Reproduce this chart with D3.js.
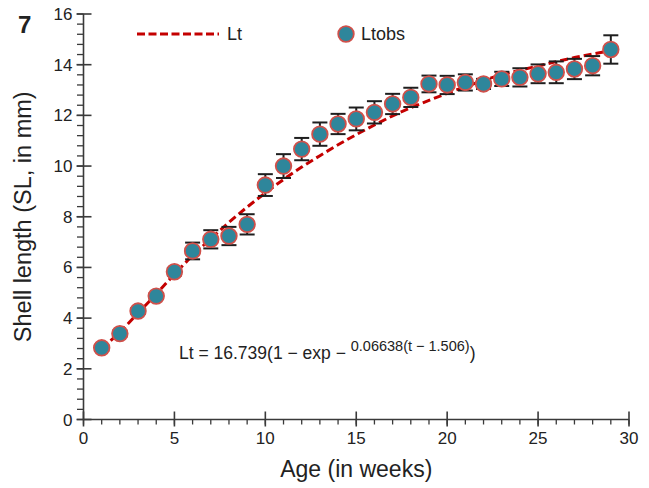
<!DOCTYPE html>
<html>
<head>
<meta charset="utf-8">
<script src="https://cdn.jsdelivr.net/npm/d3@7"></script>
<style>
  html, body { margin: 0; padding: 0; background: #fff; }
  svg { display: block; font-family: "Liberation Sans", Arial, sans-serif; }
</style>
</head>
<body>
<svg id="chart" width="649" height="488"></svg>
<script>
// ---- data ----
const ages = [1,2,3,4,5,6,7,8,9,10,11,12,13,14,15,16,17,18,19,20,21,22,23,24,25,26,27,28,29];
const ltObs = [2.83,3.39,4.28,4.87,5.83,6.65,7.11,7.24,7.70,9.25,10.0,10.67,11.26,11.66,11.86,12.12,12.45,12.71,13.24,13.20,13.30,13.24,13.44,13.50,13.64,13.70,13.83,13.96,14.60];
const ltErr = [0.12,0.12,0.12,0.12,0.15,0.33,0.36,0.36,0.40,0.43,0.47,0.44,0.46,0.40,0.45,0.44,0.40,0.38,0.33,0.36,0.32,0.20,0.28,0.36,0.37,0.43,0.40,0.38,0.56];
const ltFit = [2.80,3.45,4.20,4.95,5.73,6.47,7.13,7.78,8.38,8.94,9.47,9.96,10.41,10.84,11.24,11.62,11.98,12.30,12.59,12.87,13.13,13.38,13.60,13.78,13.95,14.12,14.28,14.42,14.55];
const xTicks = [0,5,10,15,20,25,30];
const yTicks = [0,2,4,6,8,10,12,14,16];
const xTitle = "Age (in weeks)";
const yTitle = "Shell length (SL, in mm)";
const panelLabel = "7";
const legendLabels = ["Lt", "Ltobs"];
const eqMain = "Lt = 16.739(1 \u2212 exp \u2212 ";
const eqSup = "0.06638(t \u2212 1.506)";
const eqEnd = ")";

// ---- layout ----
const svg = d3.select("#chart");
const x = d3.scaleLinear().domain([0, 30]).range([83.5, 629]);
const y = d3.scaleLinear().domain([0, 16]).range([419.5, 14]);
const axisColor = "#3a3a3a";
const textColor = "#222";

// Y axis
const gy = svg.append("g");
gy.append("line").attr("x1", x(0)).attr("x2", x(0)).attr("y1", y(16)).attr("y2", y(0))
  .attr("stroke", axisColor).attr("stroke-width", 1.6);
const yMinor = d3.range(0, 16.001, 0.4);
gy.selectAll("line.ymin").data(yMinor).enter().append("line")
  .attr("x1", x(0) - 6.5).attr("x2", x(0))
  .attr("y1", d => y(d)).attr("y2", d => y(d))
  .attr("stroke", axisColor).attr("stroke-width", 1.3);
gy.selectAll("line.ymaj").data(yTicks).enter().append("line")
  .attr("x1", x(0) - 7).attr("x2", x(0) + 8)
  .attr("y1", d => y(d)).attr("y2", d => y(d))
  .attr("stroke", axisColor).attr("stroke-width", 1.6);
gy.selectAll("text").data(yTicks).enter().append("text")
  .attr("x", x(0) - 11).attr("y", d => y(d) + 6)
  .attr("text-anchor", "end").attr("font-size", 17).attr("fill", textColor)
  .text(d => d);

// X axis
const gx = svg.append("g");
gx.append("line").attr("x1", x(0)).attr("x2", x(30)).attr("y1", y(0)).attr("y2", y(0))
  .attr("stroke", axisColor).attr("stroke-width", 1.6);
const xMinor = d3.range(0, 31, 1);
gx.selectAll("line.xmin").data(xMinor).enter().append("line")
  .attr("x1", d => x(d)).attr("x2", d => x(d))
  .attr("y1", y(0)).attr("y2", y(0) + 5)
  .attr("stroke", axisColor).attr("stroke-width", 1.3);
gx.selectAll("line.xmaj").data(xTicks).enter().append("line")
  .attr("x1", d => x(d)).attr("x2", d => x(d))
  .attr("y1", y(0) - 8).attr("y2", y(0) + 7)
  .attr("stroke", axisColor).attr("stroke-width", 1.6);
gx.selectAll("text").data(xTicks).enter().append("text")
  .attr("x", d => x(d)).attr("y", y(0) + 24)
  .attr("text-anchor", "middle").attr("font-size", 17).attr("fill", textColor)
  .text(d => d);

// Titles
svg.append("text").attr("x", (x(0) + x(30)) / 2).attr("y", 477)
  .attr("text-anchor", "middle").attr("font-size", 23).attr("fill", textColor)
  .text(xTitle);
svg.append("text")
  .attr("transform", `translate(31,${(y(0) + y(16)) / 2}) rotate(-90)`)
  .attr("text-anchor", "middle").attr("font-size", 23.5).attr("fill", textColor)
  .text(yTitle);
svg.append("text").attr("x", 18).attr("y", 33)
  .attr("font-size", 24).attr("font-weight", "bold").attr("fill", textColor)
  .text(panelLabel);

// Fitted curve
const line = d3.line().x((d, i) => x(ages[i])).y(d => y(d)).curve(d3.curveMonotoneX);
svg.append("path").datum(ltFit).attr("d", line)
  .attr("fill", "none").attr("stroke", "#c40000").attr("stroke-width", 3)
  .attr("stroke-dasharray", "8,4");

// Error bars
const eb = svg.append("g");
ages.forEach((a, i) => {
  const cx = x(a), lo = y(ltObs[i] - ltErr[i]), hi = y(ltObs[i] + ltErr[i]);
  eb.append("line").attr("x1", cx).attr("x2", cx).attr("y1", lo).attr("y2", hi)
    .attr("stroke", "#1e1e1e").attr("stroke-width", 2);
  [lo, hi].forEach(yy => eb.append("line").attr("x1", cx - 7.5).attr("x2", cx + 7.5)
    .attr("y1", yy).attr("y2", yy).attr("stroke", "#1e1e1e").attr("stroke-width", 2));
});

// Points
svg.append("g").selectAll("circle").data(ltObs).enter().append("circle")
  .attr("cx", (d, i) => x(ages[i])).attr("cy", d => y(d)).attr("r", 7.8)
  .attr("fill", "#2e869b").attr("stroke", "#d0504a").attr("stroke-width", 1.8);

// Legend
const lg = svg.append("g");
lg.append("line").attr("x1", 137).attr("x2", 219).attr("y1", 34).attr("y2", 34)
  .attr("stroke", "#c40000").attr("stroke-width", 3).attr("stroke-dasharray", "8,3.5");
lg.append("text").attr("x", 227).attr("y", 40).attr("font-size", 18).attr("fill", textColor)
  .text(legendLabels[0]);
lg.append("circle").attr("cx", 346).attr("cy", 34).attr("r", 7.8)
  .attr("fill", "#2e869b").attr("stroke", "#d0504a").attr("stroke-width", 1.8);
lg.append("text").attr("x", 361).attr("y", 40).attr("font-size", 18).attr("fill", textColor)
  .text(legendLabels[1]);

// Equation
const eq = svg.append("text").attr("x", 179).attr("y", 359).attr("font-size", 17.5).attr("fill", textColor);
eq.append("tspan").text(eqMain);
eq.append("tspan").attr("font-size", 14.5).attr("dy", -8).text(eqSup);
eq.append("tspan").attr("dy", 8).text(eqEnd);
</script>
</body>
</html>
